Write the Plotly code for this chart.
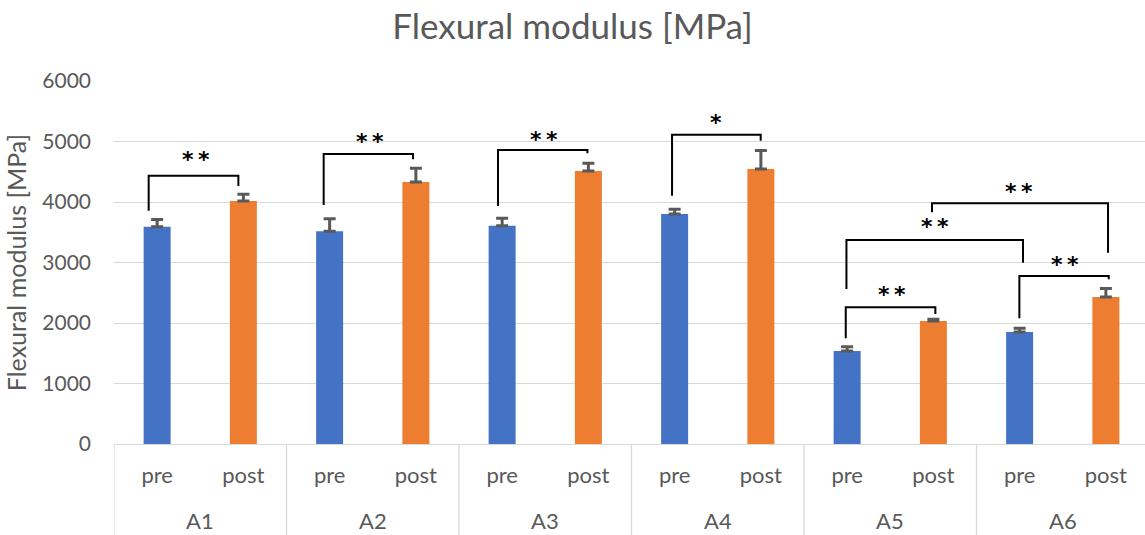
import plotly.graph_objects as go

# ---------------- data ----------------
groups = ["A1", "A2", "A3", "A4", "A5", "A6"]
conditions = ["pre", "post"]
pre_values = [3592, 3515, 3609, 3802, 1537, 1851]
post_values = [4017, 4331, 4512, 4545, 2033, 2430]
pre_errors = [120, 207, 124, 79, 69, 63]
post_errors = [112, 228, 129, 306, 30, 140]
y_tick_values = [0, 1000, 2000, 3000, 4000, 5000, 6000]

# significance brackets: left x, right x (category index units), top,
# left-leg bottom, right-leg bottom, label, label x, label y
bracket_x_left = [-0.098, 1.931, 3.952, 5.970, 7.984, 7.992, 8.984, 9.997]
bracket_x_right = [0.942, 2.967, 4.989, 6.998, 9.023, 10.039, 11.025, 11.033]
bracket_top = [4435, 4793, 4860, 5113, 2259, 3372, 3978, 2777]
bracket_left_bottom = [3856, 3950, 3934, 4105, 1747, 2562, 3830, 2077]
bracket_right_bottom = [4264, 4706, 4805, 5013, 2149, 2997, 3162, 2722]
bracket_labels = ["**", "**", "**", "*", "**", "**", "**", "**"]
label_x = [0.455, 2.465, 4.482, 6.484, 8.520, 9.015, 9.993, 10.531]
label_y = [4706, 4997, 5041, 5317, 2463, 3592, 4170, 2975]

# ---------------- build ----------------
categories = []
tick_text = []
values = []
errors = []
colors = []
BLUE = "#4472C4"
ORANGE = "#ED7D31"
for i, g in enumerate(groups):
    for c in conditions:
        categories.append(f"{g} {c}")
        tick_text.append(c)
    values += [pre_values[i], post_values[i]]
    errors += [pre_errors[i], post_errors[i]]
    colors += [BLUE, ORANGE]

TXT = "#595959"
GRID = "#D9D9D9"
FONT = "Lato"

W, H = 1145, 535
ML, MR, MT, MB = 114, 0, 81, 91
cat_px = 86.25
x_max = (W - ML - MR) / cat_px - 0.5

fig = go.Figure()
fig.add_trace(go.Bar(
    x=categories,
    y=values,
    marker=dict(color=colors, line=dict(width=0)),
    error_y=dict(type="data", symmetric=False, array=errors,
                 arrayminus=[0] * len(errors),
                 color="#595959", thickness=3, width=6),
    showlegend=False,
    hoverinfo="x+y",
))

shapes = []
annotations = []
plot_h = H - MT - MB
bottom_paper = -MB / plot_h
# group dividers
for k in range(len(groups)):
    xd = 2 * k - 0.5
    shapes.append(dict(type="line", xref="x", yref="paper", x0=xd, x1=xd,
                       y0=0, y1=bottom_paper, line=dict(color=GRID, width=1.3)))
# group labels
for k, g in enumerate(groups):
    annotations.append(dict(text=g, xref="x", yref="paper", x=2 * k + 0.5,
                            y=-(520 - (H - MB)) / plot_h, yanchor="middle",
                            showarrow=False, font=dict(family=FONT, size=22, color=TXT)))
# brackets
for i in range(len(bracket_labels)):
    path = (f"M {bracket_x_left[i]},{bracket_left_bottom[i]} "
            f"L {bracket_x_left[i]},{bracket_top[i]} "
            f"L {bracket_x_right[i]},{bracket_top[i]} "
            f"L {bracket_x_right[i]},{bracket_right_bottom[i]}")
    shapes.append(dict(type="path", xref="x", yref="y", path=path,
                       line=dict(color="black", width=2)))
    annotations.append(dict(text="\u2009".join(bracket_labels[i]), xref="x", yref="y",
                            x=label_x[i], y=label_y[i], yanchor="middle",
                            showarrow=False,
                            font=dict(family="DejaVu Sans", size=22, color="black",
                                      weight="bold")))

fig.update_layout(
    width=W, height=H,
    margin=dict(l=ML, r=MR, t=MT, b=MB, autoexpand=False),
    paper_bgcolor="white", plot_bgcolor="white",
    font=dict(family=FONT, color=TXT, size=19),
    title=dict(text="Flexural modulus [MPa]", x=0.5, xanchor="center",
               xref="container", y=1 - 27 / H, yanchor="middle", yref="container",
               font=dict(family=FONT, size=35, color=TXT)),
    bargap=0.687,
    shapes=shapes,
    annotations=annotations,
)
fig.update_xaxes(
    type="category", range=[-0.5, x_max],
    tickmode="array", tickvals=categories, ticktext=tick_text,
    showline=True, linecolor=GRID, linewidth=1.3,
    showgrid=False, ticks="", ticklabelstandoff=11,
    tickfont=dict(family=FONT, size=22, color=TXT),
    fixedrange=True,
)
fig.update_yaxes(
    range=[0, 6000], tickmode="array", tickvals=y_tick_values,
    showgrid=True, gridcolor=GRID, gridwidth=1.3,
    zeroline=False, showline=False, ticks="", ticklabelstandoff=22,
    tickfont=dict(family=FONT, size=21, color=TXT),
    title=dict(text="Flexural modulus [MPa]", standoff=8,
               font=dict(family=FONT, size=25, color=TXT)),
    fixedrange=True,
)

fig.write_html("out.html")
